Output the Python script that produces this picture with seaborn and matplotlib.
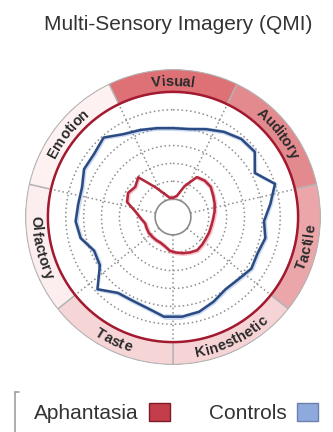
import numpy as np
import pandas as pd
import matplotlib
matplotlib.use("Agg")
import matplotlib.pyplot as plt
import seaborn as sns
from matplotlib.patches import Patch
from matplotlib.lines import Line2D
from matplotlib.font_manager import FontProperties

# ---------------- data ----------------
categories = ["Visual", "Auditory", "Tactile", "Kinesthetic", "Taste", "Olfactory", "Emotion"]
ring_colors = ["#dd7176", "#e38a8e", "#eba6a9", "#f6d3d5", "#f6d5d7", "#fcedee", "#fdf1f1"]
items_per_category = 5

# mean rating (1-7) of the 35 QMI items, in category order
aphantasia = [1.40, 1.10, 1.08, 1.20, 1.85,
              2.60, 2.70, 2.70, 2.55, 2.45,
              2.35, 2.25, 2.20, 2.20, 2.20,
              2.25, 2.30, 2.20, 2.10, 2.00,
              1.90, 1.70, 1.60, 1.60, 1.60,
              1.62, 1.60, 1.60, 1.80, 2.10,
              2.70, 2.85, 2.70, 2.95, 1.95]
controls = [5.20, 5.05, 4.97, 5.00, 5.25,
            5.55, 5.80, 5.85, 5.20, 6.00,
            5.50, 5.10, 5.30, 5.15, 5.25,
            5.05, 5.00, 5.25, 5.50, 5.60,
            5.60, 5.30, 5.20, 5.25, 5.85,
            4.90, 4.80, 5.30, 5.45, 5.35,
            5.35, 5.65, 5.65, 5.90, 5.40]
groups = ["Aphantasia", "Controls"]
line_colors = {"Aphantasia": "#b3263b", "Controls": "#2c4a82"}
band_colors = {"Aphantasia": "#e8808c", "Controls": "#8fb0e0"}
square_colors = {"Aphantasia": ("#c43d4b", "#7d1c28"), "Controls": ("#8eaadc", "#6b80aa")}
rating_min, rating_max = 1, 7

# ---------------- figure ----------------
sns.set_theme(style="white")
plt.rcParams["font.family"] = ["Liberation Sans", "DejaVu Sans"]

W, H = 333, 432
fig = plt.figure(figsize=(W / 100, H / 100), dpi=100)
cx, cy, R = 173, 217, 148
ax = fig.add_axes([(cx - R) / W, (H - cy - R) / H, 2 * R / W, 2 * R / H], projection="polar")
ax.set_theta_zero_location("N")
ax.set_theta_direction(-1)
rmax = 8.28
ax.set_ylim(0, rmax)
ax.set_xticks([])
ax.set_yticks([])
ax.grid(False)
ax.spines["polar"].set_visible(False)

ncat = len(categories)
seg = 2 * np.pi / ncat
cat_centers = np.arange(ncat) * seg

# label ring
ax.bar(cat_centers, rmax - 0.03 - rating_max, width=seg, bottom=rating_max,
       color=ring_colors, edgecolor="#b4b4b4", linewidth=1.0, zorder=1)

# grid: dotted circles & spokes
circ = np.linspace(0, 2 * np.pi, 400)
for v in range(rating_min + 1, rating_max):
    ax.plot(circ, np.full_like(circ, v), color="#8e8e8e", lw=1.1, ls=(0, (1, 1.8)), zorder=2)
for k in range(ncat):
    a = cat_centers[k] + seg / 2
    ax.plot([a, a], [rating_min, rating_max], color="#8e8e8e", lw=1.1, ls=(0, (1, 1.8)), zorder=2)
ax.plot(circ, np.full_like(circ, rating_min), color="#8a8a8a", lw=1.2, zorder=2)
ax.plot(circ, np.full_like(circ, rating_max), color="#a3192f", lw=1.8, zorder=6)

# data
n = len(aphantasia)
theta = -seg / 2 + (np.arange(n) + 0.5) * 2 * np.pi / n
theta_c = np.append(theta, theta[0] + 2 * np.pi)
rows = []
for g, vals in zip(groups, [aphantasia, controls]):
    vc = np.append(vals, vals[0])
    ax.fill_between(theta_c, vc - 0.13, vc + 0.13, color=band_colors[g], alpha=0.45, lw=0, zorder=3)
    for t, v in zip(theta_c, vc):
        rows.append({"theta": t, "value": v, "group": g})
df = pd.DataFrame(rows)
sns.lineplot(data=df, x="theta", y="value", hue="group", palette=line_colors, sort=False,
             estimator=None, legend=False, lw=1.8, ax=ax, zorder=5)
ax.set_xlabel("")
ax.set_ylabel("")
ax.set_xticks([])
ax.set_yticks([])
ax.set_ylim(0, rmax)

# curved labels
fig.canvas.draw()
renderer = fig.canvas.get_renderer()
ppu = (ax.get_window_extent().width / 2) / rmax
fs = 10.5
fp = FontProperties(family=["Liberation Sans"], weight="bold", size=fs)
cap = 0.72 * fs * 100 / 72
r_mid = (rating_max + rmax) / 2
for name, c in zip(categories, cat_centers):
    cdeg = np.degrees(c)
    flip = 90 < cdeg < 270
    widths = [renderer.get_text_width_height_descent(ch, fp, ismath=False)[0] for ch in name]
    total = np.degrees(sum(widths) / (r_mid * ppu))
    pos = 0.0
    for ch, w in zip(name, widths):
        d = np.degrees((pos + w / 2) / (r_mid * ppu))
        pos += w
        if flip:
            th = cdeg + total / 2 - d
            rot = 180 - th
            rb = r_mid + cap / 2 / ppu
        else:
            th = cdeg - total / 2 + d
            rot = -th
            rb = r_mid - cap / 2 / ppu
        ax.text(np.radians(th), rb, ch, rotation=rot, rotation_mode="anchor",
                ha="center", va="baseline", fontproperties=fp, color="#2b2b2b", zorder=7)

# title
fig.text(178 / W, 1 - 24 / H, "Multi-Sensory Imagery (QMI)", ha="center", va="center",
         fontsize=15, color="#333333")

# legend
handles = [Patch(facecolor=square_colors[g][0], edgecolor=square_colors[g][1], lw=1.0) for g in groups]
fig.legend(handles, groups, loc="center", bbox_to_anchor=(176 / W, 1 - 413 / H), ncol=2,
           frameon=False, markerfirst=False, fontsize=15, handlelength=1.0, handleheight=1.0,
           handletextpad=0.5, columnspacing=1.9, labelcolor="#333333")
fig.add_artist(Line2D([15 / W, 15 / W], [0, 1 - 392 / H], color="#a0a0a0", lw=1.2))
fig.add_artist(Line2D([15 / W, 19 / W], [1 - 392 / H, 1 - 392 / H], color="#a0a0a0", lw=1.2))

fig.savefig("out.png", dpi=100)
